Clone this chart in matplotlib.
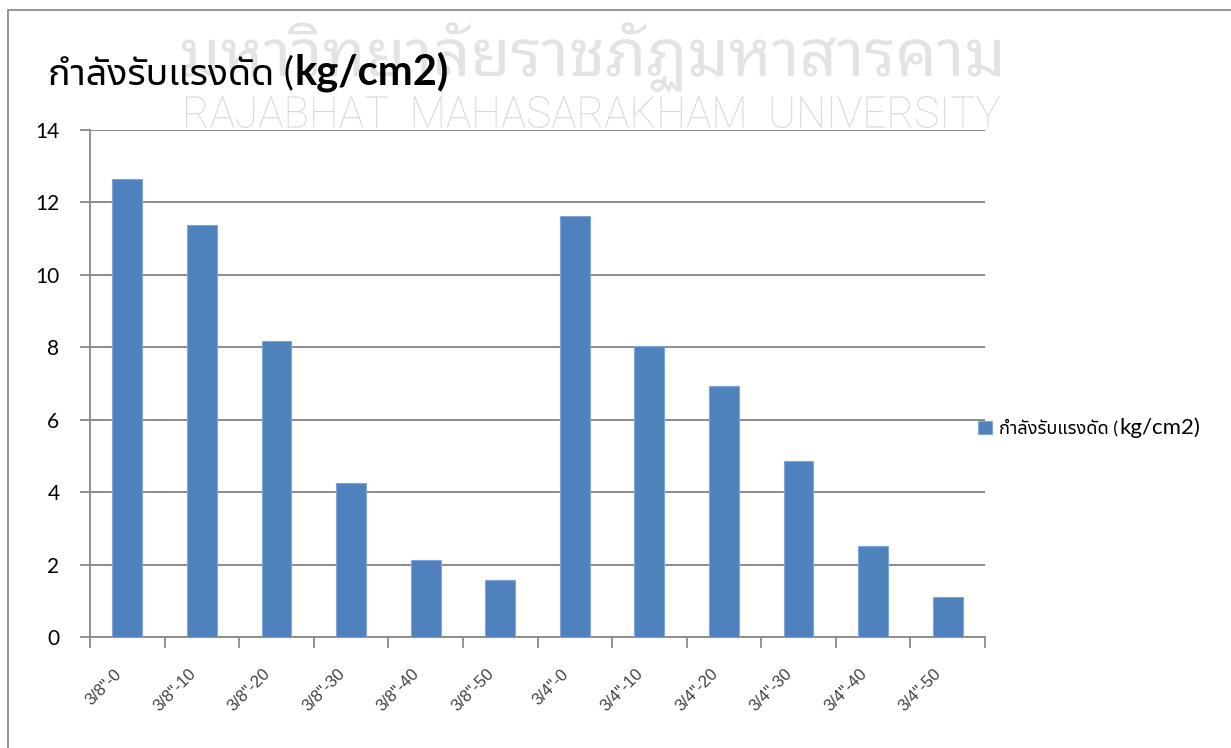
import matplotlib
matplotlib.use("Agg")
import matplotlib.pyplot as plt
import matplotlib.transforms as mtransforms
from matplotlib.textpath import TextPath
from matplotlib.font_manager import FontProperties
from matplotlib.patches import PathPatch, Rectangle

# ข้อมูลกำลังรับแรงดัด
categories = ['3/8"-0', '3/8"-10', '3/8"-20', '3/8"-30', '3/8"-40', '3/8"-50',
              '3/4"-0', '3/4"-10', '3/4"-20', '3/4"-30', '3/4"-40', '3/4"-50']
values = [12.65, 11.38, 8.18, 4.25, 2.13, 1.57,
          11.63, 8.04, 6.93, 4.86, 2.51, 1.10]
yticks = [0, 2, 4, 6, 8, 10, 12, 14]
title_th = 'กำลังรับแรงดัด ('
title_unit = 'kg/cm2)'
wm_th = 'มหาวิทยาลัยราชภัฏมหาสารคาม'
wm_en = 'RAJABHAT  MAHASARAKHAM  UNIVERSITY'

W, H = 1231, 748
fig = plt.figure(figsize=(W / 100, H / 100), dpi=100)
fig.patch.set_facecolor('white')

# กรอบนอกของแผนภูมิ
fig.add_artist(Rectangle((8 / W, -0.05), 1.2, 1.05 - 10 / H,
                         transform=fig.transFigure, fill=False,
                         edgecolor='#8c8c8c', lw=1.3))


def watermark(text, family, box, color, weight='normal'):
    # วาดข้อความลายน้ำให้พอดีกับกรอบ (x0, y0, x1, y1) ในหน่วยพิกเซล
    tp = TextPath((0, 0), text, size=100, prop=FontProperties(family=family, weight=weight))
    ext = tp.get_extents()
    x0, y0, x1, y1 = box
    sx = (x1 - x0) / ext.width
    sy = (y1 - y0) / ext.height
    tr = (mtransforms.Affine2D().translate(-ext.x0, -ext.y0).scale(sx, sy)
          .translate(x0, H - y1).scale(1 / W, 1 / H) + fig.transFigure)
    fig.add_artist(PathPatch(tp, transform=tr, facecolor=color,
                             edgecolor='none', zorder=0))


watermark(wm_th, 'Noto Sans Thai Looped', (182, 22, 1000, 92), '#e3e3e3', weight='light')
watermark(wm_en, 'Roboto', (186, 96, 1000, 128), '#d9d9d9', weight='light')

ax = fig.add_axes([90 / W, 1 - 637 / H, (985 - 90) / W, (637 - 130) / H])
ax.patch.set_alpha(0)

x = list(range(len(categories)))
bars = ax.bar(x, values, width=0.4, color='#4f81bd', edgecolor='#7ea6d6',
              linewidth=0.8, zorder=3)

ax.set_xlim(-0.5, len(categories) - 0.5)
ax.set_ylim(0, 14)
ax.set_yticks(yticks)
ax.set_yticklabels([str(v) for v in yticks], family='Lato', fontsize=15, color='black')
ax.yaxis.grid(True, color='#8a8a8a', lw=1.4, zorder=0)
ax.tick_params(axis='y', length=7, width=1.3, color='#8a8a8a', pad=15, direction='out')

# ขีดแกน x อยู่ที่ขอบของแต่ละกลุ่ม, ป้ายอยู่ตรงกลาง
ax.set_xticks([i - 0.5 for i in range(len(categories) + 1)])
ax.set_xticklabels([])
ax.set_xticks(x, minor=True)
ax.set_xticklabels(categories, minor=True, rotation=45, ha='right', va='top',
                   rotation_mode='anchor', family='Liberation Sans',
                   fontsize=12, color='#404040')
ax.tick_params(axis='x', which='major', length=8, width=1.3, color='#8a8a8a', direction='out')
ax.tick_params(axis='x', which='minor', length=0, pad=21)
shift = mtransforms.ScaledTranslation(-0.14, 0, fig.dpi_scale_trans)
for lab in ax.get_xticklabels(minor=True):
    lab.set_transform(lab.get_transform() + shift)

for s in ['top', 'right']:
    ax.spines[s].set_visible(False)
for s in ['left', 'bottom']:
    ax.spines[s].set_color('#8a8a8a')
    ax.spines[s].set_linewidth(1.3)

# ชื่อแผนภูมิ: ส่วนภาษาไทยกับหน่วยใช้ฟอนต์ต่างกัน
t1 = fig.text(48 / W, 1 - 84 / H, title_th, family=['Lato', 'Noto Sans Thai UI'],
              fontsize=27, color='black', va='baseline')
fig.canvas.draw()
bb = t1.get_window_extent()
fig.text(bb.x1 / W + 0.001, 1 - 84 / H, title_unit, family='Lato', weight='bold',
         fontsize=30, color='black', va='baseline')

# คำอธิบายสัญลักษณ์ด้านขวา
leg = fig.legend(handles=[bars], labels=[title_th], loc='center left',
                 bbox_to_anchor=(978 / W, 1 - 428 / H),
                 frameon=False, handlelength=0.75, handleheight=0.75, handletextpad=0.4,
                 borderaxespad=0, borderpad=0,
                 prop=FontProperties(family=['Lato', 'Noto Sans Thai UI'], size=13))
fig.canvas.draw()
lt = leg.get_texts()[0]
lb = lt.get_window_extent()
fig.text(lb.x1 / W + 0.001, lb.y0 / H + 0.004, title_unit, family='Lato',
         fontsize=16, color='black', va='baseline')

fig.savefig('out.png', dpi=100)
